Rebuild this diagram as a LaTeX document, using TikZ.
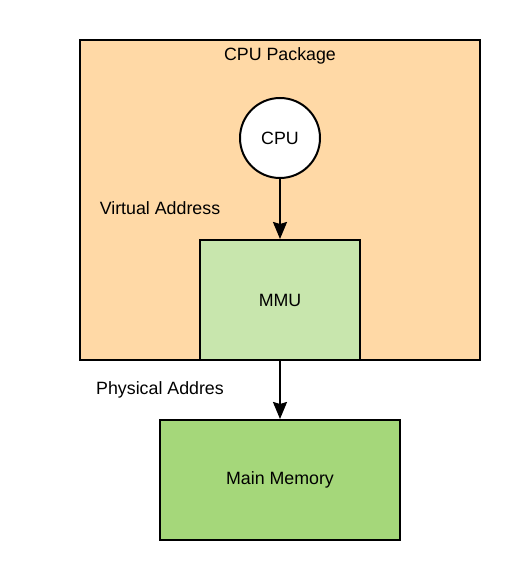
\documentclass[tikz,border=0pt]{standalone}
\usepackage{fontspec}
\setmainfont{Liberation Sans}
\usetikzlibrary{arrows.meta}

\definecolor{pkgfill}{HTML}{FFD9A6}
\definecolor{mmufill}{HTML}{C8E6AD}
\definecolor{memfill}{HTML}{A5D77A}

\begin{document}
\begin{tikzpicture}[x=1pt,y=-1pt,
  font=\fontsize{17.8}{20}\selectfont,
  box/.style={draw, line width=2pt, rectangle, inner sep=0pt},
  link/.style={line width=2pt, -{Stealth[length=17pt,width=14pt,inset=2pt]}}]

\useasboundingbox (0,0) rectangle (520,580);

% package around cpu and mmu
\node[box, fill=pkgfill, minimum width=400, minimum height=320] (pkg) at (280,200) {};
\node (pkglabel) at (280,56) {CPU Package};

\node[box, circle, fill=white, minimum size=80] (cpu) at (280,138) {CPU};
\node[box, fill=mmufill, minimum width=160, minimum height=120] (mmu) at (280,300) {MMU};

% memory below the package
\node[box, fill=memfill, minimum width=240, minimum height=120] (mem) at (280,480) {Main Memory};

\node (virt) at (160,208) {Virtual Address};
\node (phys) at (160,390) {Physical Addres};

\draw[link] (cpu) -- (mmu);
\draw[link] (mmu) -- (mem);

\end{tikzpicture}
\end{document}
